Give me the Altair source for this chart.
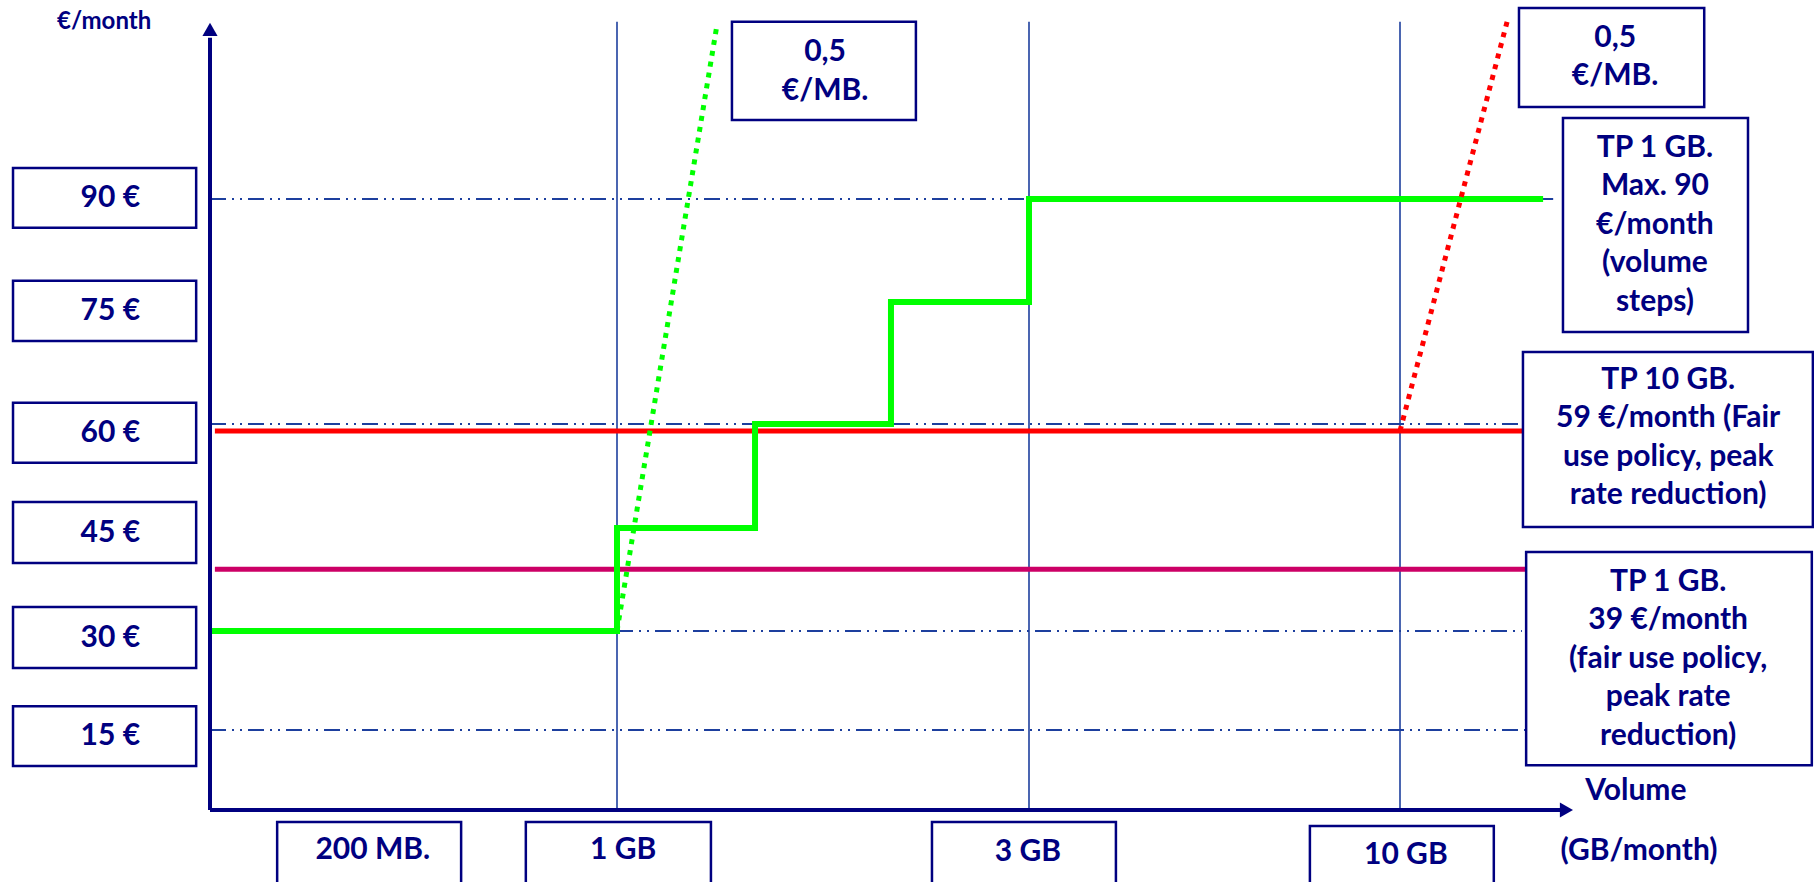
import altair as alt
import pandas as pd

# ---------------------------------------------------------------------------
# Tariff data (volume in GB/month, price in EUR/month)
# ---------------------------------------------------------------------------
price_levels = [90, 75, 60, 45, 30, 15]
price_labels = ["90 €", "75 €", "60 €", "45 €", "30 €", "15 €"]
price_grid = [90, 60, 30, 15]

volume_labels = ["200 MB.", "1 GB", "3 GB", "10 GB"]
volume_marks = [1, 3, 10]

# TP 1 GB with volume steps, capped at 90 EUR
step_volume = [0, 1, 1.67, 2.33, 3, 12.7]
step_price = [30, 45, 60, 75, 90, 90]

# flat-rate tariffs
flat_names = ["TP 10 GB", "TP 1 GB"]
flat_price = [59, 39]
flat_colors = ["#ff0000", "#cc0066"]

# out-of-bundle charge (0,5 EUR/MB) after the included volume
over_green_volume = [1, 1.485]
over_green_price = [30, 115.3]
over_red_volume = [10, 12.02]
over_red_price = [59, 115.8]

# annotation texts
note_rate = "0,5\n€/MB."
note_steps = "TP 1 GB.\nMax. 90\n€/month\n(volume\nsteps)"
note_tp10 = "TP 10 GB.\n59 €/month (Fair\nuse policy, peak\nrate reduction)"
note_tp1 = "TP 1 GB.\n39 €/month\n(fair use policy,\npeak rate\nreduction)"

# ---------------------------------------------------------------------------
# Layout of the diagram (axis scales are drawn schematically, not to scale)
# ---------------------------------------------------------------------------
NAVY = "#000080"
GRID = "#1d3f9e"
FONT = "Lato"

xs = alt.Scale(domain=[0, 1, 3, 10], range=[210, 617, 1029, 1400], nice=False, zero=False)
ys = alt.Scale(domain=[0, 15, 30, 45, 60, 75, 90],
               range=[810, 730, 631, 528, 424, 302, 199], nice=False, zero=False)


def X(f):
    return alt.X(f, type="quantitative", scale=xs, axis=None)


def Y(f):
    return alt.Y(f, type="quantitative", scale=ys, axis=None)


# boxed price labels left of the axis
price_box_top = [94.5, 78.1, 62.6, 48.75, 33.5, 18.6]
price_box_bottom = [85.8, 70.2, 54.4, 39.9, 24.4, 8.25]
price_text_y = [90.15, 73.9, 58.7, 44.3, 29.0, 13.9]

# boxed volume labels under the axis
vol_box_left = [0.165, 0.776, 2.529, 8.30]
vol_box_right = [0.617, 1.456, 4.64, 11.77]
vol_box_top = [-2.25, -2.25, -2.25, -3.0]
vol_text_x = [0.40, 1.03, 2.995, 10.11]
vol_text_y = [-7.5, -7.5, -7.9, -8.4]

# annotation boxes on the right and top (ty = first text line)
notes = pd.DataFrame({
    "text": [note_rate, note_rate, note_steps, note_tp10, note_tp1],
    "x": [1.558, 12.245, 13.075, 12.32, 12.38],
    "x2": [2.451, 15.74, 16.566, 17.79, 17.77],
    "y": [115.8, 117.8, 101.8, 68.85, 41.5],
    "y2": [101.5, 103.4, 71.3, 45.14, 8.4],
    "tx": [2.01, 14.06, 14.81, 15.06, 15.06],
    "ty": [111.4, 113.45, 97.43, 65.41, 37.14],
})

boxes = pd.concat([
    pd.DataFrame({"x": [-0.484] * 6, "x2": [-0.034] * 6,
                  "y": price_box_top, "y2": price_box_bottom}),
    pd.DataFrame({"x": vol_box_left, "x2": vol_box_right,
                  "y": vol_box_top, "y2": [-16.0] * 4}),
    notes[["x", "x2", "y", "y2"]],
], ignore_index=True)

labels = pd.concat([
    pd.DataFrame({"text": price_labels, "x": [-0.245] * 6, "y": price_text_y, "s": [30] * 6}),
    pd.DataFrame({"text": volume_labels, "x": vol_text_x, "y": vol_text_y, "s": [30] * 4}),
    pd.DataFrame({"text": notes["text"], "x": notes["tx"], "y": notes["ty"], "s": [30] * 5}),
    pd.DataFrame({"text": ["€/month", "Volume", "(GB/month)"],
                  "x": [-0.26, 14.45, 14.51], "y": [115.8, 3.56, -7.7], "s": [24, 30, 30]}),
], ignore_index=True)

# ---------------------------------------------------------------------------
# Layers
# ---------------------------------------------------------------------------
grid_df = pd.DataFrame({"y": price_grid, "x": [0, 0, 1, 0], "x2": [12.89, 12.23, 12.3, 12.36]})
grid = alt.Chart(grid_df).mark_rule(
    color=GRID, strokeWidth=2, strokeDash=[16, 6, 2, 6, 2, 6]
).encode(x=X("x"), x2="x2", y=Y("y"))

vlines = alt.Chart(pd.DataFrame({"x": volume_marks, "y": [0] * 3, "y2": [115.8] * 3})).mark_rule(
    color=GRID, strokeWidth=1.6
).encode(x=X("x"), y=Y("y"), y2="y2")

axes_df = pd.DataFrame({"x": [0, 0], "x2": [0, 13.02], "y": [0, 0], "y2": [113.5, 0]})
axes = alt.Chart(axes_df).mark_rule(color=NAVY, strokeWidth=4).encode(
    x=X("x"), x2="x2", y=Y("y"), y2="y2")

heads = alt.Chart(pd.DataFrame({
    "x": [0, 13.14], "y": [114.7, 0], "shape": ["triangle-up", "triangle-right"]
})).mark_point(filled=True, size=230, color=NAVY, opacity=1).encode(
    x=X("x"), y=Y("y"), shape=alt.Shape("shape:N", scale=None))

flat_df = pd.DataFrame({"name": flat_names, "y": flat_price, "c": flat_colors,
                        "x": [0.012, 0.012], "x2": [12.32, 12.38]})
flats = alt.Chart(flat_df).mark_rule(strokeWidth=5).encode(
    x=X("x"), x2="x2", y=Y("y"), color=alt.Color("c:N", scale=None))

steps = alt.Chart(pd.DataFrame({"v": step_volume, "p": step_price})).mark_line(
    interpolate="step-after", color="#00ff00", strokeWidth=6
).encode(x=X("v"), y=Y("p"))

over_df = pd.DataFrame({
    "v": over_green_volume + over_red_volume,
    "p": over_green_price + over_red_price,
    "g": ["green", "green", "red", "red"],
    "c": ["#00ff00", "#00ff00", "#ff0000", "#ff0000"],
})
over = alt.Chart(over_df).mark_line(strokeWidth=5, strokeDash=[5, 6]).encode(
    x=X("v"), y=Y("p"), detail="g:N", color=alt.Color("c:N", scale=None))

box_layer = alt.Chart(boxes).mark_rect(fill="white", stroke=NAVY, strokeWidth=2.5).encode(
    x=X("x"), x2="x2", y=Y("y"), y2="y2")

text_layer = alt.Chart(labels).mark_text(
    font=FONT, fontWeight="bold", color=NAVY, align="center", baseline="middle",
    lineBreak="\n", lineHeight=38.5
).encode(x=X("x"), y=Y("y"), text="text:N", size=alt.Size("s:Q", scale=None))

chart = alt.layer(
    grid, vlines, flats, steps, over, axes, heads, box_layer, text_layer
).properties(
    width=1814, height=882, padding=0,
    autosize=alt.AutoSizeParams(type="none"),
    background="white",
).configure_view(stroke=None)

chart.save("out.html", embed_options={"renderer": "svg", "actions": False})
